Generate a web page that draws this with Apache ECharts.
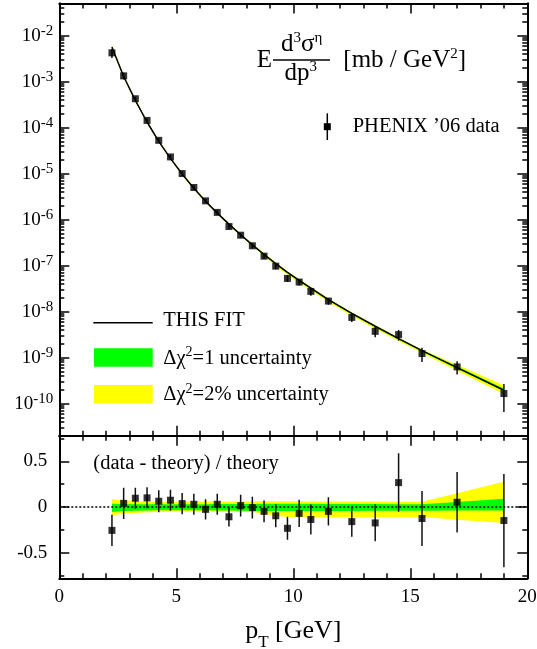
<!DOCTYPE html>
<html>
<head>
<meta charset="utf-8">
<script type="text/javascript" src="https://cdn.jsdelivr.net/npm/echarts@6/dist/echarts.min.js"></script>
</head>
<body style="margin:0;background:#fff">
<div id="container" style="width:537px;height:649px;"></div>
<script type="text/javascript">
// eta cross section, PHENIX '06
var pT = [2.25, 2.75, 3.25, 3.75, 4.25, 4.75, 5.25, 5.75, 6.25, 6.75, 7.25, 7.75, 8.25, 8.75, 9.25, 9.75, 10.25, 10.75, 11.5, 12.5, 13.5, 14.5, 15.5, 17, 19];
var sigma = [4.21e-3, 1.33e-3, 4.23e-4, 1.43e-4, 5.27e-5, 2.30e-5, 1.00e-5, 4.97e-6, 2.55e-6, 1.43e-6, 7.05e-7, 4.57e-7, 2.69e-7, 1.60e-7, 9.7e-8, 5.25e-8, 4.38e-8, 2.74e-8, 1.69e-8, 7.46e-9, 3.71e-9, 3.15e-9, 1.22e-9, 6.27e-10, 1.65e-10];
var fit = [5.62e-3, 1.29e-3, 3.89e-4, 1.32e-4, 5.01e-5, 2.14e-5, 9.77e-6, 4.79e-6, 2.51e-6, 1.38e-6, 7.94e-7, 4.68e-7, 2.82e-7, 1.74e-7, 1.10e-7, 7.08e-8, 4.79e-8, 3.24e-8, 1.82e-8, 9.12e-9, 4.79e-9, 2.57e-9, 1.41e-9, 6.03e-10, 1.95e-10];
// (data - theory) / theory and its error
var ratio = [-0.256, 0.04, 0.096, 0.10, 0.063, 0.074, 0.037, 0.03, -0.026, 0.03, -0.107, 0.015, -0.007, -0.048, -0.096, -0.233, -0.07, -0.137, -0.048, -0.16, -0.174, 0.267, -0.126, 0.052, -0.148];
var ratioErr = [0.17, 0.17, 0.115, 0.115, 0.12, 0.115, 0.115, 0.115, 0.11, 0.115, 0.107, 0.12, 0.12, 0.12, 0.125, 0.125, 0.15, 0.165, 0.155, 0.165, 0.2, 0.32, 0.3, 0.33, 0.51];
// relative uncertainty bands (yellow = 2%, green = 1)
var yelLo = [-0.09, -0.075, -0.065, -0.058, -0.055, -0.052, -0.05, -0.05, -0.05, -0.05, -0.052, -0.054, -0.056, -0.075, -0.095, -0.11, -0.112, -0.114, -0.115, -0.115, -0.113, -0.112, -0.11, -0.14, -0.176];
var yelHi = [0.085, 0.075, 0.066, 0.06, 0.058, 0.058, 0.058, 0.059, 0.06, 0.06, 0.06, 0.061, 0.062, 0.062, 0.062, 0.062, 0.062, 0.061, 0.06, 0.06, 0.059, 0.058, 0.058, 0.15, 0.275];
var grnLo = [-0.055, -0.045, -0.04, -0.037, -0.035, -0.035, -0.035, -0.035, -0.036, -0.037, -0.038, -0.04, -0.041, -0.043, -0.045, -0.045, -0.045, -0.045, -0.044, -0.043, -0.042, -0.041, -0.04, -0.039, -0.037];
var grnHi = [0.035, 0.032, 0.03, 0.03, 0.03, 0.03, 0.03, 0.03, 0.031, 0.032, 0.033, 0.033, 0.034, 0.035, 0.035, 0.035, 0.035, 0.035, 0.034, 0.033, 0.032, 0.031, 0.03, 0.055, 0.091];
// axis ticks
var logMajor = [1e-10, 1e-9, 1e-8, 1e-7, 1e-6, 1e-5, 1e-4, 1e-3, 1e-2];
var ratioMajor = [-0.5, 0, 0.5];
var ratioMinor = [-0.75, -0.25, 0.25, 0.75];

var logMinor = [];
for (var n = -11; n <= -2; n++) {
    for (var k = 2; k <= 9; k++) logMinor.push(k * Math.pow(10, n));
}

var FONT = '"Liberation Serif", "Times New Roman", serif';
var BLACK = '#000';
var dom = document.getElementById('container');
var myChart = echarts.init(dom);

function xAx(grid, pos, labels) {
    return {
        type: 'value', gridIndex: grid, position: pos, min: 0, max: 20, interval: 5,
        axisLine: { onZero: false, lineStyle: { color: BLACK, width: 2 } },
        axisTick: { inside: true, length: 10, lineStyle: { color: BLACK, width: 1.5 } },
        minorTick: { show: true, splitNumber: 5, length: 5, lineStyle: { color: BLACK, width: 1.5 } },
        splitLine: { show: false },
        axisLabel: { show: labels, color: BLACK, fontFamily: FONT, fontSize: 19, margin: 9 },
        name: labels ? '{b|p}{sub|T}{b| [GeV]}' : '',
        nameLocation: 'middle',
        nameGap: 33,
        nameTextStyle: {
            rich: {
                b: { fontFamily: FONT, fontSize: 26, lineHeight: 40, verticalAlign: 'middle', color: BLACK },
                sub: { fontFamily: FONT, fontSize: 17, lineHeight: 17, verticalAlign: 'bottom', color: BLACK }
            }
        }
    };
}

function logAx(pos, ticks, len, labels) {
    return {
        type: 'log', logBase: 10, gridIndex: 0, position: pos, min: 2e-11, max: 5e-2,
        axisLine: { show: true, onZero: false, lineStyle: { color: BLACK, width: 2 } },
        axisTick: { inside: true, length: len, customValues: ticks, lineStyle: { color: BLACK, width: 1.5 } },
        splitLine: { show: false },
        axisLabel: {
            show: labels, customValues: logMajor, margin: 6,
            formatter: function (v) { return '{b|10}{s|' + Math.round(Math.log10(v)) + '}'; },
            rich: {
                b: { fontFamily: FONT, fontSize: 19, lineHeight: 24, verticalAlign: 'middle', color: BLACK },
                s: { fontFamily: FONT, fontSize: 15, lineHeight: 13, verticalAlign: 'top', color: BLACK }
            }
        }
    };
}

function ratioAx(pos, ticks, len, labels) {
    return {
        type: 'value', gridIndex: 1, position: pos, min: -0.78, max: 0.78,
        axisLine: { show: true, onZero: false, lineStyle: { color: BLACK, width: 2 } },
        axisTick: { inside: true, length: len, customValues: ticks, lineStyle: { color: BLACK, width: 1.5 } },
        splitLine: { show: false },
        axisLabel: { show: labels, customValues: ratioMajor, margin: 12, color: BLACK, fontFamily: FONT, fontSize: 19 }
    };
}

function pairs(ys) {
    return pT.map(function (x, i) { return [x, ys[i]]; });
}

// one filled polygon per band, edges mapped through the axes
function band(x, y, lo, hi, color, z) {
    return {
        type: 'custom', xAxisIndex: x, yAxisIndex: y, z: z, clip: true, silent: true,
        encode: { x: 0, y: [1, 2] },
        data: pT.map(function (p, i) { return [p, lo[i], hi[i]]; }),
        renderItem: function (params, api) {
            if (params.dataIndex !== 0) return;
            var pts = [];
            for (var i = 0; i < pT.length; i++) pts.push(api.coord([pT[i], hi[i]]));
            for (var j = pT.length - 1; j >= 0; j--) pts.push(api.coord([pT[j], lo[j]]));
            return { type: 'polygon', shape: { points: pts }, style: { fill: color } };
        }
    };
}

function errBars(x, y, rows) {
    return {
        type: 'custom', xAxisIndex: x, yAxisIndex: y, z: 4, clip: true, silent: true,
        encode: { x: 0, y: [1, 2] },
        data: rows,
        renderItem: function (params, api) {
            var a = api.coord([api.value(0), api.value(1)]);
            var b = api.coord([api.value(0), api.value(2)]);
            return { type: 'line', shape: { x1: a[0], y1: a[1], x2: b[0], y2: b[1] },
                     style: { stroke: '#111', lineWidth: 1.5 } };
        }
    };
}

// band edges and error bars built from the arrays above
var topYelLo = fit.map(function (f, i) { return f * (1 + yelLo[i]); });
var topYelHi = fit.map(function (f, i) { return f * (1 + yelHi[i]); });
var topGrnLo = fit.map(function (f, i) { return f * (1 + grnLo[i]); });
var topGrnHi = fit.map(function (f, i) { return f * (1 + grnHi[i]); });
var topErr = pT.map(function (x, i) { return [x, sigma[i] - ratioErr[i] * fit[i], sigma[i] + ratioErr[i] * fit[i]]; });
var ratErr = pT.map(function (x, i) { return [x, ratio[i] - ratioErr[i], ratio[i] + ratioErr[i]]; });

var sup = { fontFamily: FONT, fontSize: 15, lineHeight: 14, verticalAlign: 'top', fill: BLACK };
var big = { fontFamily: FONT, fontSize: 25, lineHeight: 28, verticalAlign: 'middle', fill: BLACK };
var leg = { fontFamily: FONT, fontSize: 20.5, lineHeight: 26, verticalAlign: 'middle', fill: BLACK };
var legSup = { fontFamily: FONT, fontSize: 14, lineHeight: 13, verticalAlign: 'top', fill: BLACK };

var option = {
    animation: false,
    backgroundColor: '#fff',
    grid: [
        { left: 59.3, right: 9.7, top: 3.4, height: 432.3, containLabel: false, outerBoundsMode: 'none' },
        { left: 59.3, right: 9.7, top: 435.7, height: 142.6, containLabel: false, outerBoundsMode: 'none' }
    ],
    xAxis: [xAx(0, 'bottom', false), xAx(0, 'top', false), xAx(1, 'bottom', true), xAx(1, 'top', false)],
    yAxis: [
        logAx('left', logMajor, 10, true), logAx('left', logMinor, 5, false),
        logAx('right', logMajor, 10, false), logAx('right', logMinor, 5, false),
        ratioAx('left', ratioMajor, 10, true), ratioAx('left', ratioMinor, 5, false),
        ratioAx('right', ratioMajor, 10, false), ratioAx('right', ratioMinor, 5, false)
    ],
    series: [
        band(0, 0, topYelLo, topYelHi, '#ffff00', 1),
        band(0, 0, topGrnLo, topGrnHi, '#00ff00', 2),
        {
            type: 'line', name: 'THIS FIT', xAxisIndex: 0, yAxisIndex: 0, data: pairs(fit),
            symbol: 'none', lineStyle: { color: BLACK, width: 1.5 }, z: 3, silent: true
        },
        errBars(0, 0, topErr),
        {
            type: 'scatter', name: 'PHENIX', xAxisIndex: 0, yAxisIndex: 0, data: pairs(sigma),
            symbol: 'rect', symbolSize: 7, itemStyle: { color: BLACK }, z: 5, silent: true
        },
        band(2, 4, yelLo, yelHi, '#ffff00', 1),
        band(2, 4, grnLo, grnHi, '#00ff00', 2),
        {
            type: 'line', name: 'zero', xAxisIndex: 2, yAxisIndex: 4, data: [], z: 3, silent: true,
            markLine: {
                silent: true, symbol: ['none', 'none'], label: { show: false },
                lineStyle: { color: BLACK, type: [2, 2], width: 1.5 },
                data: [{ yAxis: 0 }]
            }
        },
        errBars(2, 4, ratErr),
        {
            type: 'scatter', name: 'ratio', xAxisIndex: 2, yAxisIndex: 4, data: pairs(ratio),
            symbol: 'rect', symbolSize: 7, itemStyle: { color: BLACK }, z: 5, silent: true
        }
    ],
    graphic: [
        // title
        { type: 'text', x: 256.7, y: 60, style: { text: 'E', font: '25px ' + FONT, fill: BLACK, textVerticalAlign: 'middle' } },
        { type: 'text', x: 301.7, y: 44.8, style: { text: '{b|d}{s|3}{b|σ}{s|η}', rich: { b: big, s: sup }, textAlign: 'center', textVerticalAlign: 'middle' } },
        { type: 'line', shape: { x1: 273, y1: 60, x2: 330, y2: 60 }, style: { stroke: BLACK, lineWidth: 1.3 } },
        { type: 'text', x: 300.8, y: 73.5, style: { text: '{b|dp}{s|3}', rich: { b: big, s: sup }, textAlign: 'center', textVerticalAlign: 'middle' } },
        { type: 'text', x: 343.3, y: 60.5, style: { text: '{b|[mb / GeV}{s|2}{b|]}', rich: { b: big, s: sup }, textVerticalAlign: 'middle' } },
        // data legend
        { type: 'line', shape: { x1: 327.3, y1: 113.3, x2: 327.3, y2: 140 }, style: { stroke: BLACK, lineWidth: 1.5 } },
        { type: 'rect', shape: { x: 323.8, y: 123.2, width: 7, height: 7 }, style: { fill: BLACK } },
        { type: 'text', x: 352.7, y: 126.7, style: { text: '{b|PHENIX ’06 data}', rich: { b: leg }, textVerticalAlign: 'middle' } },
        // fit / band legend
        { type: 'line', shape: { x1: 93.3, y1: 322.7, x2: 152.7, y2: 322.7 }, style: { stroke: BLACK, lineWidth: 1.5 } },
        { type: 'text', x: 163.3, y: 320.7, style: { text: '{b|THIS FIT}', rich: { b: leg }, textVerticalAlign: 'middle' } },
        { type: 'rect', shape: { x: 94, y: 348.3, width: 58.7, height: 18.4 }, style: { fill: '#00ff00' } },
        { type: 'text', x: 163.3, y: 358.3, style: { text: '{b|Δχ}{s|2}{b|=1 uncertainty}', rich: { b: leg, s: legSup }, textVerticalAlign: 'middle' } },
        { type: 'rect', shape: { x: 94, y: 385, width: 58.7, height: 18.3 }, style: { fill: '#ffff00' } },
        { type: 'text', x: 163.3, y: 395, style: { text: '{b|Δχ}{s|2}{b|=2% uncertainty}', rich: { b: leg, s: legSup }, textVerticalAlign: 'middle' } },
        // ratio panel label
        { type: 'text', x: 93.3, y: 463.9, style: { text: '{b|(data - theory) / theory}', rich: { b: leg }, textVerticalAlign: 'middle' } }
    ]
};

myChart.setOption(option);
</script>
</body>
</html>
